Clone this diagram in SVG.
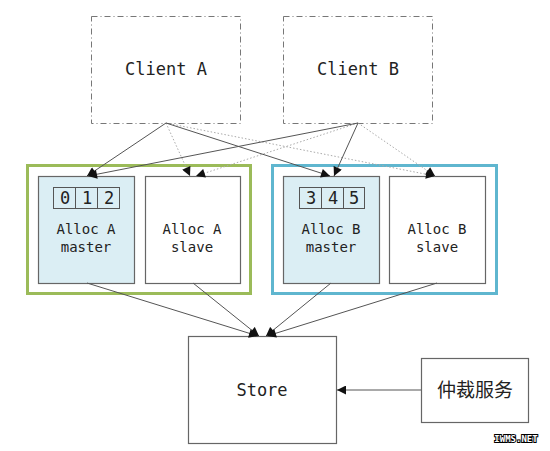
<svg xmlns="http://www.w3.org/2000/svg" width="550" height="451" viewBox="0 0 550 451">
<style>
.mono{font-family:"DejaVu Sans Mono","Liberation Mono",monospace;fill:#222;text-anchor:middle}
.client{fill:#fff;stroke:#777;stroke-width:1;stroke-dasharray:6 3 1 3}
.box{stroke:#666;stroke-width:1.2}
.master{fill:#dbeef4}
.slave{fill:#fff}
.cell{fill:#dbeef4;stroke:#555;stroke-width:1}
.solid{stroke:#555;stroke-width:1;fill:none}
.dot{stroke:#aaa;stroke-width:1;stroke-dasharray:1.5 2;fill:none}
</style>
<defs>
<marker id="ah" viewBox="0 0 10 10" refX="10" refY="5" markerWidth="10" markerHeight="9" markerUnits="userSpaceOnUse" orient="auto">
<path d="M0,0 L10,5 L0,10 z" fill="#111"/>
</marker>
</defs>
<rect width="550" height="451" fill="#fff"/>

<g id="clientA">
<rect class="client" x="91.5" y="16.5" width="149" height="107"/>
<text class="mono" x="166" y="75" font-size="17">Client A</text>
</g>
<g id="clientB">
<rect class="client" x="283.5" y="16.5" width="149" height="107"/>
<text class="mono" x="358" y="75" font-size="17">Client B</text>
</g>

<g id="groupA">
<rect x="27.5" y="165.5" width="223" height="128" fill="#fff" stroke="#9bbb59" stroke-width="3"/>
</g>
<g id="groupB">
<rect x="272.5" y="165.5" width="224" height="128" fill="#fff" stroke="#5fb6cf" stroke-width="3"/>
</g>

<g id="allocAmaster">
<rect class="box master" x="38.5" y="176.5" width="96" height="107"/>
<rect class="cell" x="53.5" y="187.5" width="22" height="21"/>
<rect class="cell" x="75.5" y="187.5" width="22" height="21"/>
<rect class="cell" x="97.5" y="187.5" width="22" height="21"/>
<text class="mono" x="65" y="204" font-size="17">0</text>
<text class="mono" x="87" y="204" font-size="17">1</text>
<text class="mono" x="109" y="204" font-size="17">2</text>
<text class="mono" x="86" y="234" font-size="14">Alloc A</text>
<text class="mono" x="86" y="252" font-size="14">master</text>
</g>
<g id="allocAslave">
<rect class="box slave" x="145.5" y="176.5" width="95" height="107"/>
<text class="mono" x="192" y="234" font-size="14">Alloc A</text>
<text class="mono" x="192" y="252" font-size="14">slave</text>
</g>
<g id="allocBmaster">
<rect class="box master" x="283.5" y="176.5" width="96" height="107"/>
<rect class="cell" x="299.5" y="187.5" width="22" height="21"/>
<rect class="cell" x="321.5" y="187.5" width="22" height="21"/>
<rect class="cell" x="343.5" y="187.5" width="21" height="21"/>
<text class="mono" x="311" y="204" font-size="17">3</text>
<text class="mono" x="333" y="204" font-size="17">4</text>
<text class="mono" x="354" y="204" font-size="17">5</text>
<text class="mono" x="331" y="234" font-size="14">Alloc B</text>
<text class="mono" x="331" y="252" font-size="14">master</text>
</g>
<g id="allocBslave">
<rect class="box slave" x="389.5" y="176.5" width="96" height="107"/>
<text class="mono" x="437" y="234" font-size="14">Alloc B</text>
<text class="mono" x="437" y="252" font-size="14">slave</text>
</g>

<g id="store">
<rect class="box" x="188.5" y="336.5" width="148" height="107" fill="#fff"/>
<text class="mono" x="262" y="396" font-size="17">Store</text>
</g>
<g id="arbiter">
<rect class="box" x="421.5" y="358.5" width="107" height="64" fill="#fff"/>
<text x="475" y="397" font-size="19" text-anchor="middle" fill="#222" font-family="'Noto Sans CJK SC','Noto Sans CJK JP',sans-serif">仲裁服务</text>
</g>

<g id="connectors">
<line class="dot" x1="166" y1="123" x2="190" y2="176" marker-end="url(#ah)"/>
<line class="dot" x1="166" y1="123" x2="435" y2="176" marker-end="url(#ah)"/>
<line class="dot" x1="358" y1="123" x2="196" y2="176" marker-end="url(#ah)"/>
<line class="dot" x1="358" y1="123" x2="435" y2="176" marker-end="url(#ah)"/>
<line class="solid" x1="166" y1="123" x2="87" y2="176" marker-end="url(#ah)"/>
<line class="solid" x1="166" y1="123" x2="330" y2="176" marker-end="url(#ah)"/>
<line class="solid" x1="358" y1="123" x2="88" y2="176" marker-end="url(#ah)"/>
<line class="solid" x1="358" y1="123" x2="334" y2="176" marker-end="url(#ah)"/>
<line class="solid" x1="87" y1="283" x2="258" y2="336" marker-end="url(#ah)"/>
<line class="solid" x1="193" y1="283" x2="259" y2="336" marker-end="url(#ah)"/>
<line class="solid" x1="331" y1="283" x2="266" y2="336" marker-end="url(#ah)"/>
<line class="solid" x1="437" y1="283" x2="267" y2="336" marker-end="url(#ah)"/>
<line class="solid" x1="421" y1="390" x2="337" y2="390" marker-end="url(#ah)"/>
</g>

<text x="516" y="442" font-size="9" font-weight="bold" text-anchor="middle" font-family="'DejaVu Sans Mono',monospace" fill="#fff" stroke="#000" stroke-width="2" paint-order="stroke">IWMS.NET</text>
</svg>
